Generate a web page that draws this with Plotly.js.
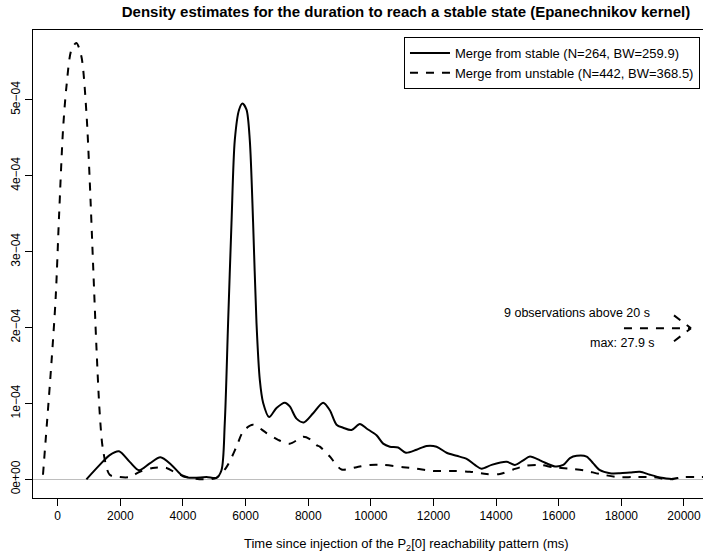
<!DOCTYPE html>
<html>
<head>
<meta charset="utf-8">
<script src="https://cdn.plot.ly/plotly-3.0.1.min.js"></script>
<style>html,body{margin:0;padding:0;background:#fff;}#chart{width:703px;height:557px;}</style>
</head>
<body>
<div id="chart"></div>
<script>
// Density values are in units of 1e-4
const stableX = [917,1342,1661,1958,2300,2597,2939,3281,3633,4003,4323,4751,5070,5230,5335,5441,5550,5655,5792,5901,6029,6134,6240,6348,6454,6559,6751,6987,7252,7412,7626,7859,8157,8476,8690,8904,9115,9383,9649,9863,10182,10393,10607,10872,11118,11460,11780,12099,12419,12738,13058,13323,13537,13856,14335,14601,14866,15080,15399,15505,15879,16144,16358,16572,16891,17102,17316,17636,17955,18275,18594,18914,19288,19658];
const stableY = [0,0.19,0.32,0.37,0.23,0.12,0.21,0.29,0.19,0.04,0.02,0.03,0.02,0.12,0.74,2.06,3.38,4.47,4.87,4.95,4.87,4.47,3.38,2.06,1.31,1.01,0.82,0.94,1.01,0.96,0.80,0.75,0.87,1.01,0.91,0.72,0.68,0.65,0.73,0.67,0.58,0.47,0.43,0.42,0.35,0.39,0.44,0.43,0.35,0.31,0.27,0.19,0.14,0.19,0.23,0.19,0.25,0.30,0.25,0.23,0.17,0.19,0.28,0.31,0.30,0.21,0.12,0.08,0.08,0.09,0.10,0.06,0.02,0];
const unstableX = [-470,-201,-64,42,169,278,438,597,757,917,1022,1128,1236,1342,1447,1661,1981,2300,2620,3035,3473,3792,4217,4633,5070,5390,5709,5920,6230,6668,7038,7412,7837,8051,8265,8371,8690,9064,9543,9968,10393,11032,11460,11990,12629,13163,13696,14121,14546,14971,15399,15824,16358,16783,17316,17850,18383,19022,19553,19978,20406,20700];
const unstableY = [0.06,1.53,2.40,3.46,4.60,5.17,5.66,5.75,5.57,4.83,3.94,2.85,1.75,0.87,0.39,0.06,0.03,0.03,0.10,0.15,0.15,0.08,0.02,0.00,0.02,0.16,0.43,0.63,0.72,0.61,0.52,0.47,0.56,0.53,0.45,0.43,0.30,0.13,0.16,0.19,0.19,0.16,0.14,0.11,0.11,0.10,0.07,0.07,0.13,0.18,0.19,0.16,0.14,0.12,0.07,0.03,0.03,0.03,0,0.03,0.03,0.03];

const seriesNames = ["Merge from stable (N=264, BW=259.9)", "Merge from unstable (N=442, BW=368.5)"];
const xTickVals = [0,2000,4000,6000,8000,10000,12000,14000,16000,18000,20000];
const xTickText = ["0","2000","4000","6000","8000","10000","12000","14000","16000","18000","20000"];
const yTickVals = [0,1,2,3,4,5];
const yTickText = ["0e+00","1e\u221204","2e\u221204","3e\u221204","4e\u221204","5e\u221204"];

// annotation for observations above 20 s
const noteTexts = ["9 observations above 20 s", "max: 27.9 s"];
const noteX = [18990, 19137];
const noteY = [2.19, 1.80];
const arrowShaft = {x0: 18083, x1: 20224, y: 1.99};
const arrowHead = {x: 19681, yUp: 2.16, yDown: 1.82};

const FONT = '"Liberation Sans", Arial, Helvetica, sans-serif';

const traces = [
  {x: stableX, y: stableY, type: 'scatter', mode: 'lines', name: seriesNames[0],
   line: {color: '#000', width: 2, shape: 'spline', smoothing: 0.8}},
  {x: unstableX, y: unstableY, type: 'scatter', mode: 'lines', name: seriesNames[1],
   line: {color: '#000', width: 2, dash: '8px,8px', shape: 'spline', smoothing: 0.8}}
];

const shapes = [
  {type: 'line', xref: 'x', yref: 'y', x0: arrowShaft.x0, x1: arrowShaft.x1, y0: arrowShaft.y, y1: arrowShaft.y,
   line: {color: '#000', width: 2, dash: '8px,8px'}},
  {type: 'line', xref: 'x', yref: 'y', x0: arrowHead.x, x1: arrowShaft.x1, y0: arrowHead.yUp, y1: arrowShaft.y,
   line: {color: '#000', width: 2, dash: '8px,8px'}},
  {type: 'line', xref: 'x', yref: 'y', x0: arrowHead.x, x1: arrowShaft.x1, y0: arrowHead.yDown, y1: arrowShaft.y,
   line: {color: '#000', width: 2, dash: '8px,8px'}}
];

const annotations = noteTexts.map((t, i) => ({
  text: t, x: noteX[i], y: noteY[i], xref: 'x', yref: 'y', xanchor: 'right', yanchor: 'middle',
  showarrow: false, font: {family: FONT, size: 12.5, color: '#000'}
}));
annotations.push({
  text: 'Time since injection of the P<sub>2</sub>[0] reachability pattern (ms)',
  xref: 'paper', yref: 'paper', x: 0.557, y: -0.1, xanchor: 'center', yanchor: 'middle',
  showarrow: false, font: {family: FONT, size: 13, color: '#000'}
});

const layout = {
  width: 703, height: 557,
  margin: {l: 33, r: 0, t: 30, b: 59, pad: 0},
  paper_bgcolor: '#fff', plot_bgcolor: '#fff',
  font: {family: FONT, size: 12, color: '#000'},
  title: {text: 'Density estimates for the duration to reach a stable state (Epanechnikov kernel)',
          font: {family: FONT, size: 15, color: '#000', weight: 'bold'},
          xref: 'container', yref: 'container', x: 0.5775, y: 1 - 12/557, xanchor: 'center', yanchor: 'middle'},
  showlegend: true,
  legend: {x: 0.9955, y: 0.985, xanchor: 'right', yanchor: 'top', bgcolor: '#fff', bordercolor: '#000', borderwidth: 1,
           font: {family: FONT, size: 13, color: '#000'}, tracegroupgap: 0, itemwidth: 40},
  xaxis: {range: [-789, 20607], showgrid: false, zeroline: false, showline: true, linecolor: '#000', linewidth: 1,
          mirror: true, ticks: 'outside', ticklen: 7, tickcolor: '#000', tickwidth: 1,
          tickmode: 'array', tickvals: xTickVals, ticktext: xTickText, tickfont: {family: FONT, size: 12, color: '#000'}},
  yaxis: {range: [-0.246, 5.92], showgrid: false, zeroline: true, zerolinecolor: '#bebebe', zerolinewidth: 1,
          showline: true, linecolor: '#000', linewidth: 1, mirror: false, ticks: 'outside', ticklen: 7, tickcolor: '#000', tickwidth: 1,
          tickmode: 'array', tickvals: yTickVals, ticktext: yTickText, tickangle: -90, tickfont: {family: FONT, size: 12, color: '#000'}},
  shapes: shapes,
  annotations: annotations
};

Plotly.newPlot('chart', traces, layout, {displayModeBar: false, staticPlot: true});
</script>
</body>
</html>
